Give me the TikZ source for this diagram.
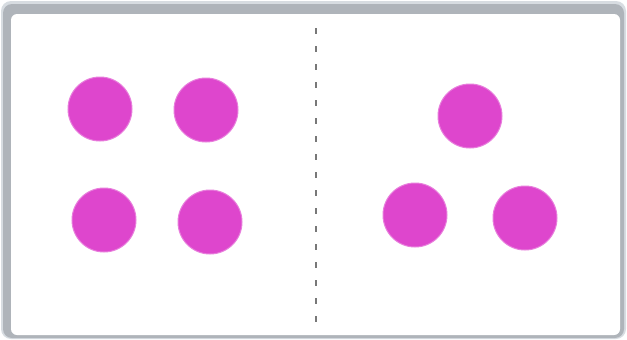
\documentclass[tikz,border=0pt]{standalone}
\definecolor{dotpink}{RGB}{222,70,205}
\definecolor{frameg}{RGB}{175,180,186}
\definecolor{framel}{RGB}{215,220,225}
\definecolor{dashg}{RGB}{120,120,120}
\tikzset{
  dot/.style={circle, fill=dotpink, draw=dotpink!70!white, line width=1pt, minimum size=64pt, inner sep=0pt},
  divider/.style={draw=dashg, line width=2pt, dash pattern=on 6pt off 12pt},
}
\begin{document}
\begin{tikzpicture}[x=1pt,y=-1pt]
\useasboundingbox (0,0) rectangle (627,340);
\fill[white] (0,0) rectangle (627,340);
\fill[framel, rounded corners=10pt] (1,1) rectangle (626,339);
\fill[frameg, rounded corners=9pt] (3,4) rectangle (624,338);
\fill[white, rounded corners=6pt] (11,14) rectangle (620,335);
\coordinate (dtop) at (316,28);
\coordinate (dbot) at (316,327);
\draw[divider] (dtop) -- (dbot);
\node[dot] (l1) at (100,109) {};
\node[dot] (l2) at (206,110) {};
\node[dot] (l3) at (104,220) {};
\node[dot] (l4) at (210,222) {};
\node[dot] (r1) at (470,116) {};
\node[dot] (r2) at (415,215) {};
\node[dot] (r3) at (525,218) {};
\end{tikzpicture}
\end{document}
